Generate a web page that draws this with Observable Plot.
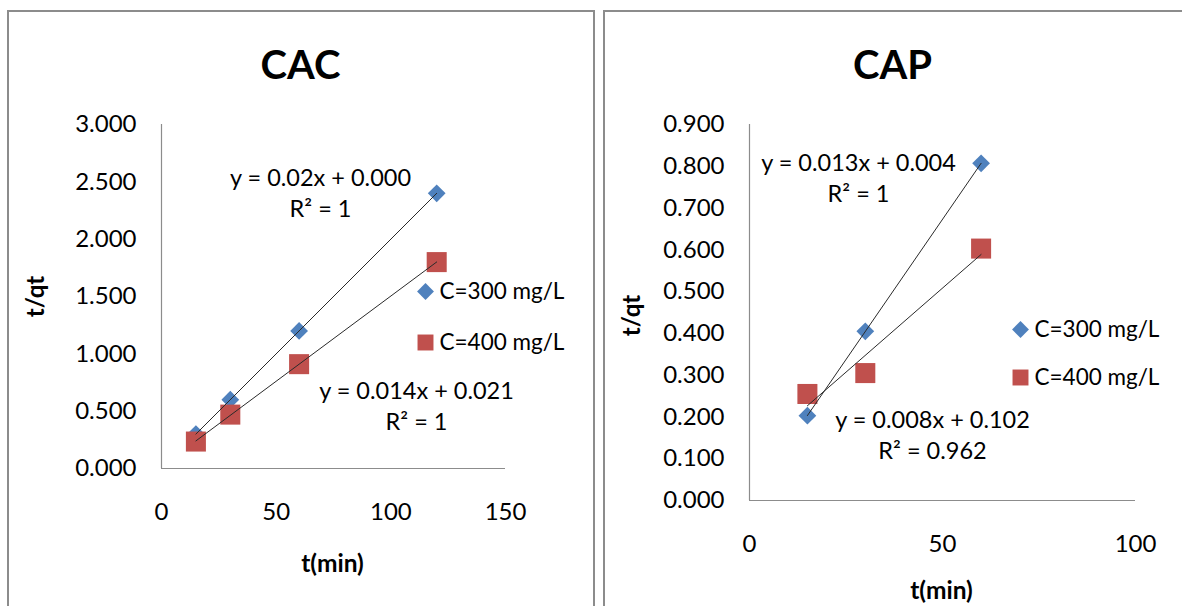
<!DOCTYPE html>
<html>
<head>
<meta charset="utf-8">
<script src="https://cdn.jsdelivr.net/npm/d3@7"></script>
<script src="https://cdn.jsdelivr.net/npm/@observablehq/plot@0.6"></script>
<style>
  html, body { margin: 0; padding: 0; background: #fff; }
  body { width: 1182px; height: 606px; position: relative; overflow: hidden; font-family: Lato, sans-serif; }
  .frame { position: absolute; border: 2px solid #8c8c8c; box-sizing: border-box; }
  .chart { position: absolute; top: 0; }
</style>
</head>
<body>
<div class="frame" style="left:7px; top:10px; width:588px; height:700px;"></div>
<div class="frame" style="left:603px; top:10px; width:700px; height:700px;"></div>
<div id="left" class="chart" style="left:0px; width:600px;"></div>
<div id="right" class="chart" style="left:600px; width:582px;"></div>
<script>
// ---- data ----
const seriesNames = ["C=300 mg/L", "C=400 mg/L"];

const cacTime = [15, 30, 60, 120];
const cac300 = [0.30, 0.60, 1.20, 2.40];
const cac400 = [0.235, 0.47, 0.91, 1.80];
const cacXTicks = [0, 50, 100, 150];
const cacYTicks = [0, 0.5, 1.0, 1.5, 2.0, 2.5, 3.0];
const cacEq300 = ["y = 0.02x + 0.000", "R² = 1"];
const cacEq400 = ["y = 0.014x + 0.021", "R² = 1"];

const capTime = [15, 30, 60];
const cap300 = [0.203, 0.405, 0.807];
const cap400 = [0.255, 0.305, 0.603];
const capXTicks = [0, 50, 100];
const capYTicks = [0, 0.1, 0.2, 0.3, 0.4, 0.5, 0.6, 0.7, 0.8, 0.9];
const capEq300 = ["y = 0.013x + 0.004", "R² = 1"];
const capEq400 = ["y = 0.008x + 0.102", "R² = 0.962"];

const blue = "#4F81BD";
const red = "#C0504D";
const axisGray = "#8c8c8c";

function rows(time, vals, s) { return time.map((t, i) => ({t, v: vals[i], s})); }

function makePanel(cfg) {
  const r300 = rows(cfg.time, cfg.v300, seriesNames[0]);
  const r400 = rows(cfg.time, cfg.v400, seriesNames[1]);
  const all = r300.concat(r400);
  const A = cfg.anno;
  const tl = {frameAnchor: "top-left"};
  const eqSize = 23.5;
  return Plot.plot({
    width: cfg.width, height: 606,
    marginLeft: cfg.mL, marginRight: cfg.mR, marginTop: cfg.mT, marginBottom: cfg.mB,
    style: {fontFamily: "Lato, sans-serif", fontSize: "24px", background: "transparent", color: "#000", overflow: "visible"},
    x: {domain: cfg.xDomain, ticks: cfg.xTicks, tickSize: 0, tickPadding: 34, tickFormat: d3.format("d"), label: null},
    y: {domain: cfg.yDomain, ticks: cfg.yTicks, tickSize: 0, tickPadding: 25, tickFormat: d3.format(".3f"), label: null},
    marks: [
      Plot.ruleY([cfg.yDomain[0]], {stroke: axisGray, strokeWidth: 1.2}),
      Plot.ruleX([cfg.xDomain[0]], {stroke: axisGray, strokeWidth: 1.2}),
      Plot.dot(r300, {x: "t", y: "v", symbol: "diamond2", r: 8, fill: blue, stroke: null}),
      Plot.dot(r400, {x: "t", y: "v", symbol: "square", r: 11.3, fill: red, stroke: null}),
      Plot.linearRegressionY(all, {x: "t", y: "v", z: "s", ci: 0, stroke: "#2a2a2a", strokeWidth: 1}),
      // title and axis titles
      Plot.text([cfg.title], {...tl, dx: A.title[0], dy: A.title[1], fontSize: 40, fontWeight: "bold", textAnchor: "middle", lineAnchor: "middle"}),
      Plot.text(["t/qt"], {...tl, dx: A.ylab[0], dy: A.ylab[1], rotate: -90, fontSize: 24, fontWeight: "bold", textAnchor: "middle", lineAnchor: "middle"}),
      Plot.text(["t(min)"], {...tl, dx: A.xlab[0], dy: A.xlab[1], fontSize: 24.5, fontWeight: "bold", textAnchor: "middle", lineAnchor: "middle"}),
      // trendline equations
      Plot.text([cfg.eq300[0]], {...tl, dx: A.eq300[0], dy: A.eq300[1], fontSize: eqSize, textAnchor: "middle", lineAnchor: "middle"}),
      Plot.text([cfg.eq300[1]], {...tl, dx: A.eq300[0], dy: A.eq300[1] + A.gap, fontSize: eqSize, textAnchor: "middle", lineAnchor: "middle"}),
      Plot.text([cfg.eq400[0]], {...tl, dx: A.eq400[0], dy: A.eq400[1], fontSize: eqSize, textAnchor: "middle", lineAnchor: "middle"}),
      Plot.text([cfg.eq400[1]], {...tl, dx: A.eq400[0], dy: A.eq400[1] + A.gap, fontSize: eqSize, textAnchor: "middle", lineAnchor: "middle"}),
      // legend
      Plot.dot([seriesNames[0]], {...tl, dx: A.leg[0], dy: A.leg[1], symbol: "diamond2", r: 7.6, fill: blue, stroke: null}),
      Plot.dot([seriesNames[1]], {...tl, dx: A.leg[0], dy: A.leg[1] + A.legGap, symbol: "square", r: 9, fill: red, stroke: null}),
      Plot.text([seriesNames[0]], {...tl, dx: A.leg[0] + 14, dy: A.leg[1], fontSize: 22.5, textAnchor: "start", lineAnchor: "middle"}),
      Plot.text([seriesNames[1]], {...tl, dx: A.leg[0] + 14, dy: A.leg[1] + A.legGap, fontSize: 22.5, textAnchor: "start", lineAnchor: "middle"})
    ]
  });
}

document.getElementById("left").append(makePanel({
  width: 600, mL: 161, mR: 95, mT: 124, mB: 138,
  xDomain: [0, 150], yDomain: [0, 3], xTicks: cacXTicks, yTicks: cacYTicks,
  time: cacTime, v300: cac300, v400: cac400,
  title: "CAC", eq300: cacEq300, eq400: cacEq400,
  anno: {title: [139, -58], ylab: [-125, 172], xlab: [171, 440],
         eq300: [159, 54], eq400: [255, 267], gap: 31,
         leg: [264, 167], legGap: 51}
}));

document.getElementById("right").append(makePanel({
  width: 582, mL: 149, mR: 47, mT: 124, mB: 106,
  xDomain: [0, 100], yDomain: [0, 0.9], xTicks: capXTicks, yTicks: capYTicks,
  time: capTime, v300: cap300, v400: cap400,
  title: "CAP", eq300: capEq300, eq400: capEq400,
  anno: {title: [143, -58], ylab: [-117, 191], xlab: [192, 467],
         eq300: [109, 39], eq400: [183, 296], gap: 31,
         leg: [271, 205], legGap: 48}
}));
</script>
</body>
</html>
